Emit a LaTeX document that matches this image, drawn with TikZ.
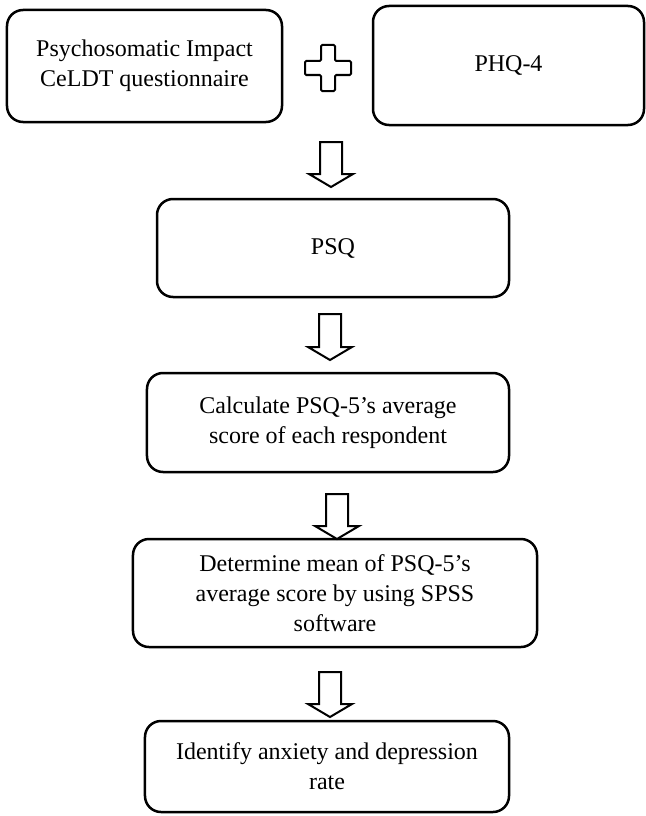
\documentclass[tikz,border=0pt]{standalone}
\usepackage{fontspec}
\setmainfont{Liberation Serif}
\usetikzlibrary{calc}
\tikzset{
  box/.style={draw=black, line width=2.5bp, rounded corners=16bp, align=center,
    inner sep=0pt, font=\fontsize{24bp}{30bp}\selectfont},
  barrow/.style={draw=black, line width=2bp, line join=miter, fill=white},
  plusshape/.style={draw=black, line width=2bp, rounded corners=1.2bp, fill=white}
}
\newcommand\blockarr[2]{%
  \draw[barrow] ($(#1)+(-11,0)$) -- ($(#1)+(11,0)$) -- ($(#2)+(11,-13)$)
    -- ($(#2)+(22,-13)$) -- (#2) -- ($(#2)+(-22,-13)$) -- ($(#2)+(-11,-13)$) -- cycle;}
\begin{document}
\begin{tikzpicture}[x=1bp,y=-1bp]
\useasboundingbox (0,0) rectangle (646,816);
% boxes
\node[box, minimum width=275bp, minimum height=112bp] (b1) at (144.5,66) {Psychosomatic Impact\\CeLDT questionnaire};
\node[box, minimum width=271bp, minimum height=119bp] (b2) at (508.5,65.5) {PHQ-4};
\node[box, minimum width=352bp, minimum height=98bp] (psq) at (333,248) {PSQ};
\node[box, minimum width=362bp, minimum height=99bp] (calc) at (328,422.5) {Calculate PSQ-5’s average\\score of each respondent};
\node[box, minimum width=404bp, minimum height=108bp] (det) at (335,593) {Determine mean of PSQ-5’s\\average score by using SPSS\\software};
\node[box, minimum width=364bp, minimum height=91bp] (idf) at (327,766.5) {\raisebox{-6bp}{\parbox{360bp}{\centering Identify anxiety and depression\\rate}}};
% plus sign
\coordinate (pc) at (328,68);
\draw[plusshape] ($(pc)+(-7,-23)$) -- ($(pc)+(7,-23)$) -- ($(pc)+(7,-7)$) -- ($(pc)+(23,-7)$)
  -- ($(pc)+(23,7)$) -- ($(pc)+(7,7)$) -- ($(pc)+(7,23)$) -- ($(pc)+(-7,23)$)
  -- ($(pc)+(-7,7)$) -- ($(pc)+(-23,7)$) -- ($(pc)+(-23,-7)$) -- ($(pc)+(-7,-7)$) -- cycle;
% block arrows
\coordinate (a1s) at (331,142); \coordinate (a1t) at (331,187);
\coordinate (a2s) at (330,314); \coordinate (a2t) at (330,360);
\coordinate (a3s) at (337,494); \coordinate (a3t) at (337,539);
\coordinate (a4s) at (330,672); \coordinate (a4t) at (330,717);
\blockarr{a1s}{a1t}
\blockarr{a2s}{a2t}
\blockarr{a3s}{a3t}
\blockarr{a4s}{a4t}
\end{tikzpicture}
\end{document}
